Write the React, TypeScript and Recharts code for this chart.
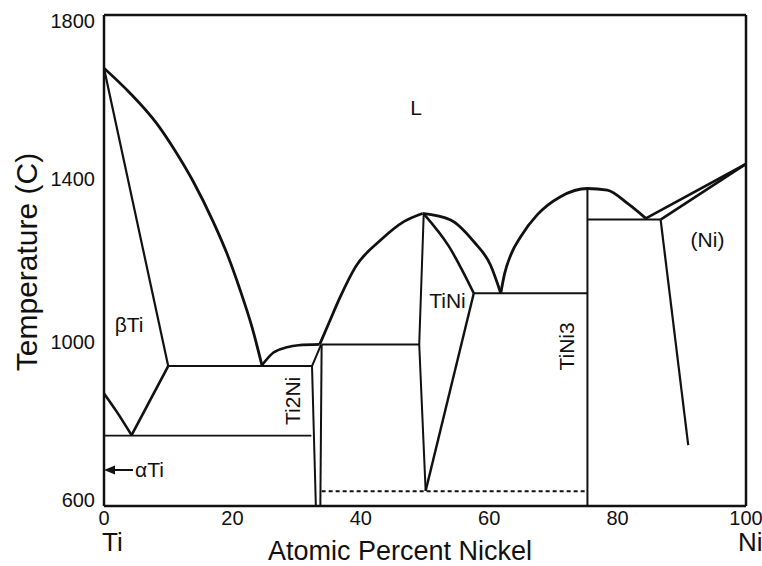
import { ComposedChart, Line, XAxis, YAxis, ReferenceLine, ReferenceDot } from "recharts";

const FONT = "'Liberation Sans', Arial, Helvetica, sans-serif";
const INK = "#111";

// phase boundaries, [at% Ni, temperature C]
const tiLiquidus = [[0, 1670], [4, 1610], [8.2, 1535], [11, 1470], [14, 1390], [17, 1295], [19.2, 1215], [21.2, 1128], [23, 1040], [24.6, 944]];
const betaSolidus = [[0, 1670], [10, 942]];
const eutectic942 = [[10, 942], [32.4, 942]];
const betaSolvus = [[0, 875], [2, 830], [4.3, 773]];
const eutectoidRise = [[4.3, 773], [10, 942]];
const eutectoid = [[0, 772], [32.3, 772]];
const ti2NiHump = [[24.6, 944], [26.4, 975], [28.5, 988], [30.3, 993], [33.6, 995]];
const ti2NiLeft = [[33.0, 600], [32.4, 942], [33.8, 994]];
const ti2NiRight = [[33.9, 995], [33.7, 600]];
const peritectic995 = [[33.9, 995], [49.1, 995]];
const tiNiLiquidusL = [[33.6, 995], [35.0, 1046], [36.8, 1111], [39.2, 1185], [43.1, 1250], [46.7, 1295], [49.6, 1315]];
const tiNiLiquidusR = [[49.6, 1315], [54.0, 1299], [57.6, 1246], [60.2, 1189], [61.8, 1120]];
const tiNiLeft = [[49.8, 1314], [49.1, 995], [50.1, 637]];
const tiNiSolidus = [[49.8, 1314], [53.7, 1235], [57.6, 1120]];
const tiNiRight = [[57.6, 1120], [50.1, 637]];
const eutectic1120 = [[57.6, 1120], [75.3, 1120]];
const tiNi3Liquidus = [[61.8, 1120], [62.4, 1168], [63.4, 1215], [64.9, 1258], [67.5, 1312], [71.1, 1356], [75.3, 1376], [78.4, 1372], [81.5, 1340], [84.4, 1303]];
const tiNi3Line = [[75.3, 1376], [75.3, 600]];
const peritectic1300 = [[75.3, 1300], [86.7, 1300]];
const niLiquidus = [[84.4, 1303], [100, 1436]];
const niSolidus = [[86.7, 1300], [100, 1436]];
const niSolvus = [[86.7, 1300], [91.0, 749]];
const martensite = [[33.9, 636], [75.3, 636]];

const xTicks = [0, 20, 40, 60, 80, 100];
const yTicks = [600, 1000, 1400, 1800];

// phase field labels: text, at% Ni, temperature, rotated
const fieldLabels: [string, number, number, boolean][] = [
  ["L", 48.6, 1573, false],
  ["\u03b2Ti", 3.9, 1044, false],
  ["TiNi", 53.5, 1103, false],
  ["Ti2Ni", 29.4, 857, true],
  ["TiNi3", 72.1, 990, true],
  ["(Ni)", 94.0, 1250, false],
];
const alphaTi = { x: 0, t: 688 };

const pts = (a: number[][]) => a.map(([x, t]) => ({ x, t }));

const series = [
  { d: tiLiquidus, curve: true, w: 2.8 },
  { d: betaSolidus, curve: false, w: 2.2 },
  { d: eutectic942, curve: false, w: 2 },
  { d: betaSolvus, curve: true, w: 2.6 },
  { d: eutectoidRise, curve: false, w: 2.6 },
  { d: eutectoid, curve: false, w: 1.8 },
  { d: ti2NiHump, curve: true, w: 2.6 },
  { d: ti2NiLeft, curve: false, w: 2 },
  { d: ti2NiRight, curve: false, w: 2 },
  { d: peritectic995, curve: false, w: 2 },
  { d: tiNiLiquidusL, curve: true, w: 2.8 },
  { d: tiNiLiquidusR, curve: true, w: 2.8 },
  { d: tiNiLeft, curve: false, w: 2 },
  { d: tiNiSolidus, curve: true, w: 2.6 },
  { d: tiNiRight, curve: false, w: 2.4 },
  { d: eutectic1120, curve: false, w: 2 },
  { d: tiNi3Liquidus, curve: true, w: 2.8 },
  { d: tiNi3Line, curve: false, w: 2 },
  { d: peritectic1300, curve: false, w: 2 },
  { d: niLiquidus, curve: false, w: 2.6 },
  { d: niSolidus, curve: false, w: 2.6 },
  { d: niSolvus, curve: false, w: 2.2 },
];

const XTick = ({ x, y, payload }: any) => (
  <g fontFamily={FONT} fill={INK}>
    <text x={x} y={y + 19} textAnchor="middle" fontSize={20}>{payload.value}</text>
    {payload.value === 0 && <text x={x - 2} y={y + 45} fontSize={26}>Ti</text>}
    {payload.value === 100 && <text x={x - 8} y={y + 45} fontSize={26}>Ni</text>}
  </g>
);

// end labels sit just inside the frame, as in the print
const YTick = ({ x, y, payload }: any) => (
  <text x={x - 9} y={Math.min(Math.max(y, 21), 500)} dy="0.35em" textAnchor="end" fontSize={20} fontFamily={FONT} fill={INK}>
    {payload.value}
  </text>
);

const FieldLabel = (text: string, rotated: boolean) => (p: any) => (
  <text
    x={p.cx}
    y={p.cy}
    dy="0.35em"
    textAnchor="middle"
    fontSize={21}
    fontFamily={FONT}
    fill={INK}
    transform={rotated ? `rotate(-90 ${p.cx} ${p.cy})` : undefined}
  >
    {text}
  </text>
);

const AlphaArrow = (p: any) => (
  <g>
    <polygon points={`${p.cx},${p.cy} ${p.cx + 11},${p.cy - 4.5} ${p.cx + 11},${p.cy + 4.5}`} fill={INK} />
    <line x1={p.cx + 9} y1={p.cy} x2={p.cx + 29} y2={p.cy} stroke={INK} strokeWidth={2} />
    <text x={p.cx + 31} y={p.cy} dy="0.35em" fontSize={21} fontFamily={FONT} fill={INK}>{"\u03b1Ti"}</text>
  </g>
);

export default function App() {
  return (
    <div style={{ position: "absolute", left: 0, top: 0, background: "#fff" }}>
      <ComposedChart width={762} height={566} margin={{ top: 15, right: 16, bottom: 0, left: 0 }}>
        <XAxis
          dataKey="x"
          type="number"
          domain={[0, 100]}
          ticks={xTicks}
          tickLine={false}
          tickSize={0}
          tickMargin={0}
          height={60}
          axisLine={{ stroke: INK, strokeWidth: 2.5 }}
          tick={<XTick />}
          allowDataOverflow
          label={{
            content: () => (
              <text x={400} y={560} textAnchor="middle" fontSize={27} fontFamily={FONT} fill={INK}>
                Atomic Percent Nickel
              </text>
            ),
          }}
        />
        <YAxis
          dataKey="t"
          type="number"
          domain={[600, 1800]}
          ticks={yTicks}
          tickLine={false}
          tickSize={0}
          tickMargin={0}
          width={104}
          axisLine={{ stroke: INK, strokeWidth: 2.5 }}
          tick={<YTick />}
          allowDataOverflow
          label={{
            content: () => (
              <text
                x={37}
                y={262}
                textAnchor="middle"
                fontSize={30}
                fontFamily={FONT}
                fill={INK}
                transform="rotate(-90 37 262)"
              >
                Temperature (C)
              </text>
            ),
          }}
        />
        <ReferenceLine y={1800} stroke={INK} strokeWidth={2.5} />
        <ReferenceLine x={100} stroke={INK} strokeWidth={2.5} />
        {series.map((s, i) => (
          <Line
            key={i}
            data={pts(s.d)}
            dataKey="t"
            type={s.curve ? "monotone" : "linear"}
            stroke={INK}
            strokeWidth={s.w}
            strokeLinejoin="round"
            dot={false}
            activeDot={false}
            isAnimationActive={false}
          />
        ))}
        <Line
          data={pts(martensite)}
          dataKey="t"
          type="linear"
          stroke={INK}
          strokeWidth={1.8}
          strokeDasharray="4 3"
          dot={false}
          activeDot={false}
          isAnimationActive={false}
        />
        {fieldLabels.map(([text, x, t, rot]) => (
          <ReferenceDot key={text} x={x} y={t} r={0} shape={FieldLabel(text, rot)} />
        ))}
        <ReferenceDot x={alphaTi.x} y={alphaTi.t} r={0} shape={AlphaArrow} />
      </ComposedChart>
    </div>
  );
}
